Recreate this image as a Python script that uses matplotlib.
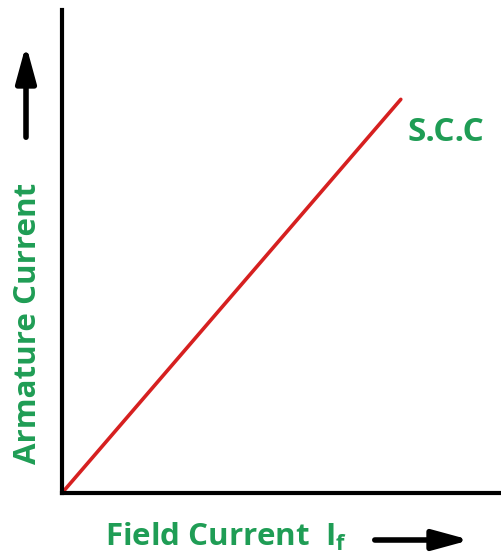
import matplotlib.pyplot as plt

# data (arbitrary units, straight line short-circuit characteristic)
field_current = [0, 7.7]
armature_current = [0, 8.15]
curve_label = "S.C.C"

green = "#1f9d55"
plt.rcParams['font.family'] = ['Open Sans', 'DejaVu Sans']

fig = plt.figure(figsize=(5.02, 5.59), dpi=100)
ax = fig.add_axes([62/502, 66/559, 440/502, 483/559])
ax.plot(field_current, armature_current, color="#d62020", lw=2.6, solid_capstyle="round")
ax.set_xlim(0, 10)
ax.set_ylim(0, 10)
ax.set_xticks([])
ax.set_yticks([])
for s in ["top", "right"]:
    ax.spines[s].set_visible(False)
for s in ["left", "bottom"]:
    ax.spines[s].set_linewidth(3)
    ax.spines[s].set_color("black")

ax.annotate(curve_label, xy=(field_current[1], armature_current[1]),
            xytext=(5, -24), textcoords="offset points",
            color=green, fontsize=24, fontweight="bold", ha="left", va="center")

# axis labels
fig.text(28/502, 1 - 323/559, "Armature Current", rotation=90, color=green,
         fontsize=22.5, fontweight="bold", ha="center", va="center")
fig.text(226/502, 1 - 537/559, r"Field Current  I$_\mathregular{f}$", color=green,
         fontsize=22.5, fontweight="bold", ha="center", va="center")

# arrows
ax.annotate("", xy=(26/502, 1 - 42/559), xytext=(26/502, 1 - 140/559),
            xycoords="figure fraction", textcoords="figure fraction",
            arrowprops=dict(arrowstyle="-|>,head_length=2.2,head_width=0.6",
                            color="black", lw=4))
ax.annotate("", xy=(473/502, 1 - 540/559), xytext=(372/502, 1 - 540/559),
            xycoords="figure fraction", textcoords="figure fraction",
            arrowprops=dict(arrowstyle="-|>,head_length=2.2,head_width=0.6",
                            color="black", lw=4))

plt.savefig("out.png", dpi=100)
